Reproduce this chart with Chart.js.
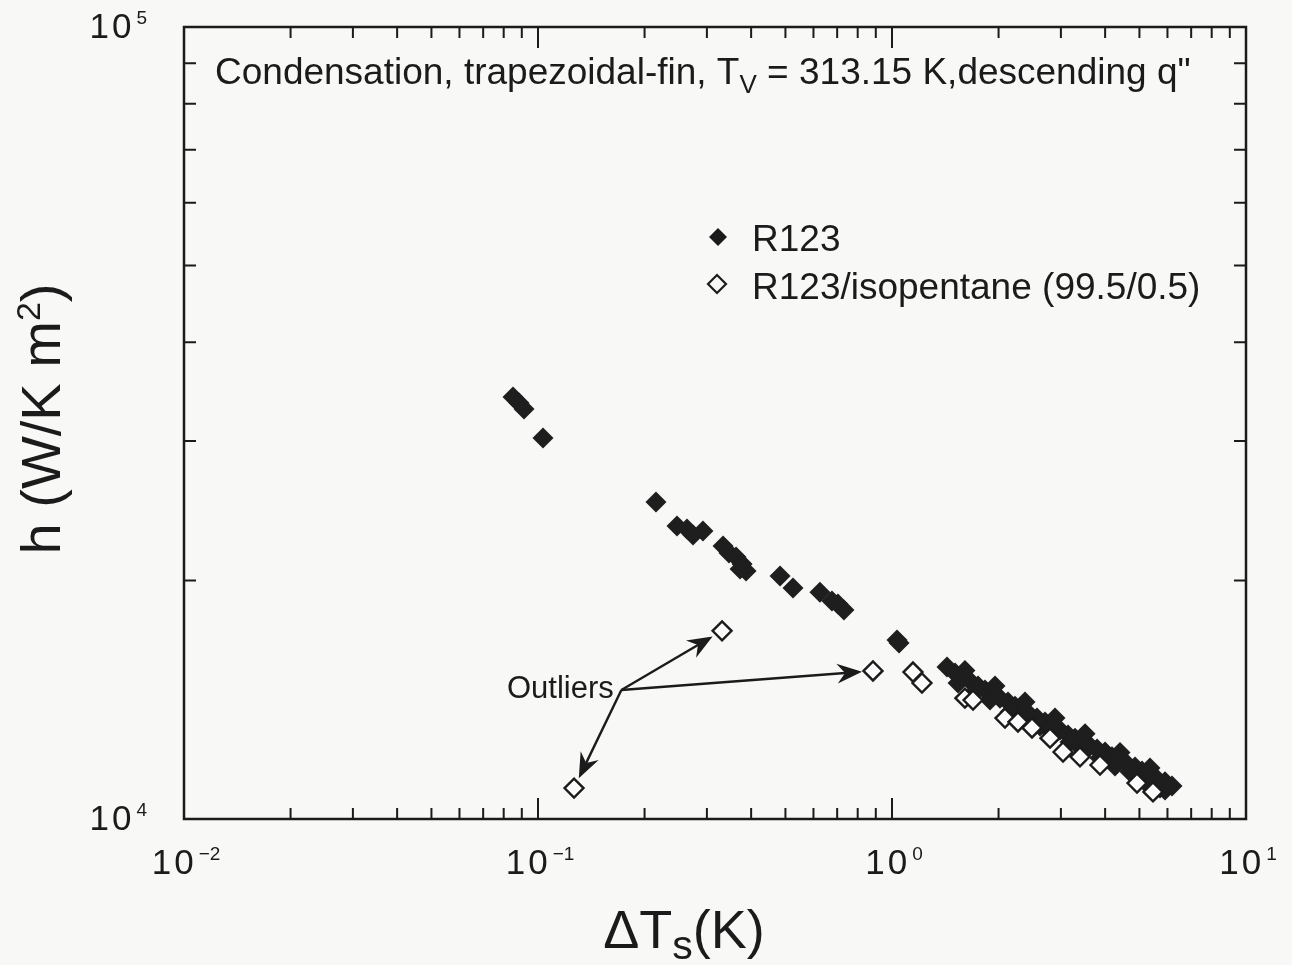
<!DOCTYPE html>
<html>
<head>
<meta charset="utf-8">
<script src="https://cdn.jsdelivr.net/npm/chart.js@4.4.1/dist/chart.umd.min.js"></script>
<style>
  html, body { margin: 0; padding: 0; background: #f8f8f7; }
  #wrap { width: 1292px; height: 965px; position: relative; }
</style>
</head>
<body>
<div id="wrap"><canvas id="myChart"></canvas></div>
<script>
// R123 (filled diamonds): wall subcooling dTs (K) and h (W/K m2)
const r123Dt = [0.0850, 0.0884, 0.0913, 0.1033, 0.2154, 0.2470, 0.2636, 0.2741, 0.2924,
  0.3332, 0.3464, 0.3626, 0.3771, 0.3870, 0.3722, 0.4828, 0.5253, 0.6259, 0.6767, 0.7035,
  0.7316, 1.033, 1.047, 1.430, 1.507, 1.577, 1.661, 1.750, 1.831, 1.929, 2.019, 2.127,
  2.226, 2.329, 2.454, 2.568, 2.705, 2.831, 2.983, 3.143, 3.288, 3.464, 3.626, 3.795,
  3.998, 4.183, 4.407, 4.612, 4.859, 5.084, 5.356, 5.605, 5.905, 6.180,
  2.154, 2.618, 3.183, 3.869, 4.703, 5.716,
  1.536, 1.716, 1.892, 2.299, 2.795, 3.397, 4.265, 5.185, 5.905,
  1.607, 1.954, 2.375, 2.887, 3.510, 4.407, 5.356];
const r123H = [34100, 33520, 32940, 30280, 25140, 23440, 23240, 22840, 23100,
  22120, 21670, 21420, 20990, 20560, 20690, 20270, 19570, 19340, 18850, 18680,
  18360, 16830, 16680, 15560, 15290, 15070, 14940, 14720, 14550, 14420, 14210, 14050,
  13880, 13690, 13530, 13410, 13260, 13140, 12950, 12770, 12650, 12510, 12360, 12260,
  12150, 11980, 11870, 11730, 11630, 11500, 11360, 11230, 11140, 11010,
  13650, 13100, 12510, 11940, 11470, 10940,
  14850, 14470, 14130, 13490, 12915, 12330, 11665, 11140, 10880,
  15400, 14720, 14050, 13410, 12810, 12135, 11600];

// R123/isopentane (99.5/0.5) (open diamonds); first three are the outliers
const mixDt = [0.3311, 0.8837, 0.1264, 1.146, 1.215, 1.607, 1.694, 2.085, 2.269, 2.486,
  2.795, 3.042, 3.397, 3.869, 4.922, 5.461];
const mixH = [17280, 15380, 10940, 15330, 14850, 14210, 14130, 13410, 13260, 13030,
  12650, 12150, 11980, 11700, 11100, 10820];
const outlierIdx = [0, 1, 2];

// decade tick labels
const xTickVals = [0.01, 0.1, 1, 10];
const xTickExp = ['\u22122', '\u22121', '0', '1'];
const yTickVals = [1e4, 1e5];
const yTickExp = ['4', '5'];

const FONT = '"Liberation Sans", Arial, Helvetica, sans-serif';
const INK = '#1b1b1b';

function toPoints(xs, ys) {
  return xs.map((x, i) => ({ x: x, y: ys[i] }));
}

// "10" with a raised exponent
function drawPow(ctx, exp, x, y, align) {
  ctx.save();
  ctx.fillStyle = INK;
  ctx.textBaseline = 'alphabetic';
  ctx.font = '35px ' + FONT;
  ctx.letterSpacing = '3px';
  const wb = ctx.measureText('10').width;
  ctx.font = '19px ' + FONT;
  ctx.letterSpacing = '0px';
  const we = ctx.measureText(exp).width;
  const total = wb + 2 + we;
  let left = align === 'right' ? x - total : x - total / 2;
  ctx.font = '35px ' + FONT;
  ctx.letterSpacing = '3px';
  ctx.textAlign = 'left';
  ctx.fillText('10', left, y + 12);
  ctx.font = '19px ' + FONT;
  ctx.letterSpacing = '0px';
  ctx.fillText(exp, left + wb + 2, y - 2);
  ctx.restore();
}

function arrow(ctx, x0, y0, x1, y1) {
  const a = Math.atan2(y1 - y0, x1 - x0);
  const c = Math.cos(a), s = Math.sin(a);
  const L = 25, W = 10, notch = 8;
  ctx.beginPath();
  ctx.moveTo(x0, y0);
  ctx.lineTo(x1 - (L - notch) * c, y1 - (L - notch) * s);
  ctx.stroke();
  ctx.beginPath();
  ctx.moveTo(x1, y1);
  ctx.lineTo(x1 - L * c + W * s, y1 - L * s - W * c);
  ctx.lineTo(x1 - (L - notch) * c, y1 - (L - notch) * s);
  ctx.lineTo(x1 - L * c - W * s, y1 - L * s + W * c);
  ctx.closePath();
  ctx.fill();
}

const decorPlugin = {
  id: 'decor',
  beforeDraw(chart) {
    const ctx = chart.ctx;
    ctx.save();
    ctx.fillStyle = '#f8f8f7';
    ctx.fillRect(0, 0, chart.width, chart.height);
    ctx.restore();
  },
  afterDatasetsDraw(chart) {
    const ctx = chart.ctx;
    const xs = chart.scales.x, ys = chart.scales.y;
    const a = chart.chartArea;
    ctx.save();
    ctx.strokeStyle = INK;
    ctx.fillStyle = INK;

    // frame
    ctx.lineWidth = 2.5;
    ctx.strokeRect(a.left, a.top, a.right - a.left, a.bottom - a.top);

    // inward ticks on all four sides
    ctx.lineWidth = 2;
    for (let e = -2; e <= 1; e++) {
      for (let m = 1; m <= 9; m++) {
        const v = m * Math.pow(10, e);
        if (v > 10.0001) break;
        const px = xs.getPixelForValue(v);
        const len = m === 1 ? 21 : 11;
        ctx.beginPath();
        ctx.moveTo(px, a.bottom); ctx.lineTo(px, a.bottom - len);
        ctx.moveTo(px, a.top); ctx.lineTo(px, a.top + len);
        ctx.stroke();
      }
    }
    for (let m = 1; m <= 10; m++) {
      const v = m * 1e4;
      const py = ys.getPixelForValue(v);
      const len = (m === 1 || m === 10) ? 21 : 12;
      ctx.beginPath();
      ctx.moveTo(a.left, py); ctx.lineTo(a.left + len, py);
      ctx.moveTo(a.right, py); ctx.lineTo(a.right - len, py);
      ctx.stroke();
    }

    // tick labels
    xTickVals.forEach((v, i) => drawPow(ctx, xTickExp[i], xs.getPixelForValue(v) + 2, a.bottom + 43, 'center'));
    yTickVals.forEach((v, i) => drawPow(ctx, yTickExp[i], a.left - 37, ys.getPixelForValue(v) - 1, 'right'));

    // axis titles
    ctx.textAlign = 'left';
    ctx.textBaseline = 'alphabetic';
    ctx.font = '54px ' + FONT;
    const w1 = ctx.measureText('\u0394T').width;
    ctx.font = '41px ' + FONT;
    const w2 = ctx.measureText('s').width;
    ctx.font = '54px ' + FONT;
    const w3 = ctx.measureText('(K)').width;
    let tx = 684 - (w1 + w2 + w3) / 2;
    ctx.fillText('\u0394T', tx, 948);
    ctx.font = '41px ' + FONT;
    ctx.fillText('s', tx + w1, 959);
    ctx.font = '54px ' + FONT;
    ctx.fillText('(K)', tx + w1 + w2, 948);

    ctx.save();
    ctx.translate(60, 419);
    ctx.rotate(-Math.PI / 2);
    ctx.font = '56px ' + FONT;
    const h1 = ctx.measureText('h (W/K m').width;
    ctx.font = '34px ' + FONT;
    const h2 = ctx.measureText('2').width;
    ctx.font = '56px ' + FONT;
    const h3 = ctx.measureText(')').width;
    const hx = -(h1 + h2 + h3) / 2;
    ctx.fillText('h (W/K m', hx, 0);
    ctx.font = '34px ' + FONT;
    ctx.fillText('2', hx + h1, -20);
    ctx.font = '56px ' + FONT;
    ctx.fillText(')', hx + h1 + h2, 0);
    ctx.restore();

    // run conditions
    ctx.font = '37px ' + FONT;
    let cx = 215;
    const s1 = 'Condensation, trapezoidal-fin, T';
    ctx.fillText(s1, cx, 84);
    cx += ctx.measureText(s1).width;
    ctx.font = '26px ' + FONT;
    ctx.fillText('V', cx, 93);
    cx += ctx.measureText('V').width;
    ctx.font = '37px ' + FONT;
    ctx.fillText(' = 313.15 K,descending q"', cx, 84);

    // legend
    const mk = (x, y, filled) => {
      ctx.beginPath();
      ctx.moveTo(x - 9, y); ctx.lineTo(x, y - 9); ctx.lineTo(x + 9, y); ctx.lineTo(x, y + 9);
      ctx.closePath();
      if (filled) { ctx.fill(); } else { ctx.lineWidth = 2.2; ctx.stroke(); }
    };
    mk(718, 237, true);
    mk(717, 284, false);
    ctx.font = '37px ' + FONT;
    ctx.fillText('R123', 752, 251);
    ctx.fillText('R123/isopentane (99.5/0.5)', 752, 299);

    // outlier callout
    ctx.font = '31px ' + FONT;
    ctx.fillText('Outliers', 507, 698);
    const ox = xs.getPixelForValue(0.172), oy = ys.getPixelForValue(14550);
    ctx.lineWidth = 2.4;
    outlierIdx.forEach(i => {
      const px = xs.getPixelForValue(mixDt[i]), py = ys.getPixelForValue(mixH[i]);
      const d = Math.hypot(px - ox, py - oy);
      const k = (d - 11) / d;
      arrow(ctx, ox, oy, ox + (px - ox) * k, oy + (py - oy) * k);
    });
    ctx.restore();
  }
};

const ctx = document.getElementById('myChart').getContext('2d');
const myChart = new Chart(ctx, {
  type: 'scatter',
  data: {
    datasets: [{
      label: 'R123/isopentane (99.5/0.5)',
      data: toPoints(mixDt, mixH),
      pointStyle: 'rectRot',
      pointRadius: 9.5,
      borderWidth: 2.4,
      borderColor: INK,
      backgroundColor: '#fbfbfb',
      order: 0
    }, {
      label: 'R123',
      data: toPoints(r123Dt, r123H),
      pointStyle: 'rectRot',
      pointRadius: 10.5,
      borderWidth: 0,
      borderColor: INK,
      backgroundColor: '#1e1e1e',
      order: 1
    }]
  },
  options: {
    responsive: true,
    maintainAspectRatio: false,
    animation: false,
    layout: { padding: { left: 0, top: 27, right: 46, bottom: 0 } },
    plugins: { legend: { display: false }, tooltip: { enabled: false } },
    scales: {
      x: {
        type: 'logarithmic',
        min: 0.01,
        max: 10,
        grid: { display: false, drawTicks: false },
        border: { display: false },
        ticks: { display: false },
        afterFit: s => { s.height = 146; }
      },
      y: {
        type: 'logarithmic',
        min: 1e4,
        max: 1e5,
        grid: { display: false, drawTicks: false },
        border: { display: false },
        ticks: { display: false },
        afterFit: s => { s.width = 184; }
      }
    }
  },
  plugins: [decorPlugin]
});
</script>
</body>
</html>
